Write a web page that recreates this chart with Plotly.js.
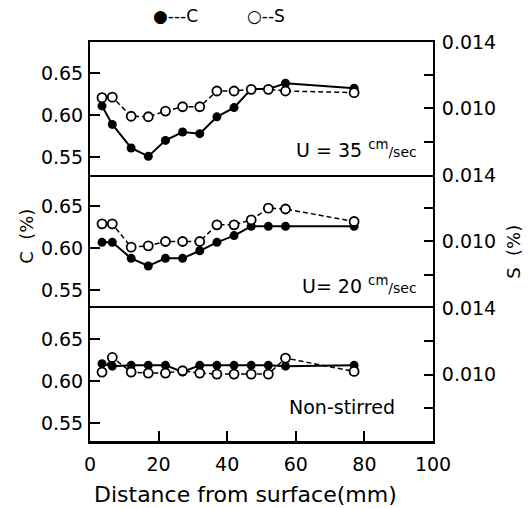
<!DOCTYPE html>
<html>
<head>
<meta charset="utf-8">
<script src="https://cdn.plot.ly/plotly-3.0.1.min.js"></script>
<style>html,body{margin:0;padding:0;background:#fff}#chart{width:528px;height:508px}</style>
</head>
<body>
<div id="chart"></div>
<script>
// Distance from surface (mm)
const depth = [3.5, 6.5, 12, 17, 22, 27, 32, 37, 42, 47, 52, 57, 77];
// U = 35 cm/sec
const C35 = [0.611, 0.589, 0.561, 0.551, 0.570, 0.580, 0.578, 0.598, 0.609, 0.631, 0.631, 0.638, 0.632];
const S35 = [0.01065, 0.01068, 0.00953, 0.00950, 0.00984, 0.01010, 0.01010, 0.01105, 0.01105, 0.01115, 0.01115, 0.01105, 0.01095];
// U = 20 cm/sec
const C20 = [0.607, 0.607, 0.588, 0.579, 0.588, 0.588, 0.597, 0.607, 0.615, 0.626, 0.626, 0.626, 0.626];
const S20 = [0.01106, 0.01106, 0.00966, 0.00974, 0.01000, 0.01000, 0.01000, 0.01100, 0.01100, 0.01130, 0.01200, 0.01195, 0.01120];
// Non-stirred
const C0 = [0.621, 0.618, 0.619, 0.619, 0.619, 0.611, 0.619, 0.619, 0.619, 0.619, 0.619, 0.618, 0.619];
const S0 = [0.01015, 0.01103, 0.01015, 0.01009, 0.01009, 0.01023, 0.01009, 0.01003, 0.01003, 0.01003, 0.01003, 0.01099, 0.01019];

const xTicks = [0, 20, 40, 60, 80, 100];
const cTicks = [0.55, 0.60, 0.65];
const cTickText = ['0.55', '0.60', '0.65'];
const sTicks = [0.010, 0.014];
const sTickText = ['0.010', '0.014'];

const FONT = 'DejaVu Sans, sans-serif';

function cTrace(y, xa, ya) {
  return {x: depth, y: y, xaxis: xa, yaxis: ya, type: 'scatter', mode: 'lines+markers',
    line: {color: '#000', width: 2}, marker: {symbol: 'circle', size: 9, color: '#000'}, showlegend: false, cliponaxis: false};
}
function sTrace(y, xa, ya) {
  return {x: depth, y: y, xaxis: xa, yaxis: ya, type: 'scatter', mode: 'lines+markers',
    line: {color: '#000', width: 1.5, dash: '5px,3px'},
    marker: {symbol: 'circle', size: 9, color: '#fff', line: {color: '#000', width: 1.8}}, showlegend: false, cliponaxis: false};
}

const data = [
  cTrace(C0, 'x', 'y'), sTrace(S0, 'x', 'y2'),
  cTrace(C20, 'x2', 'y3'), sTrace(S20, 'x2', 'y4'),
  cTrace(C35, 'x3', 'y5'), sTrace(S35, 'x3', 'y6')
];

const tickFont = {family: FONT, size: 19, color: '#000'};

function cAxis(domain, anchor) {
  return {domain: domain, anchor: anchor, range: [0.529, 0.687], tickvals: cTicks, ticktext: cTickText,
    ticks: 'inside', ticklen: 10, tickwidth: 2, tickcolor: '#000', showline: true, linewidth: 2, linecolor: '#000',
    showgrid: false, zeroline: false, tickfont: tickFont, ticklabelstandoff: 1};
}
function sAxis(over, anchor) {
  return {overlaying: over, anchor: anchor, side: 'right', range: [0.006, 0.014], tickvals: sTicks, ticktext: sTickText,
    ticks: 'inside', ticklen: 9, tickwidth: 2, tickcolor: '#000', showline: true, linewidth: 2, linecolor: '#000',
    minor: {tick0: 0, dtick: 0.002, ticks: 'inside', ticklen: 9, tickwidth: 2, tickcolor: '#000', showgrid: false},
    showgrid: false, zeroline: false, tickfont: tickFont, ticklabelstandoff: 3};
}

const layout = {
  width: 528, height: 508,
  margin: {l: 90, r: 95, t: 42, b: 67},
  paper_bgcolor: '#fff', plot_bgcolor: '#fff',
  font: {family: FONT, color: '#000'},
  showlegend: false,
  xaxis: {domain: [0, 1], anchor: 'y', range: [0, 100], tickvals: xTicks, ticks: 'inside', ticklen: 10, tickwidth: 2,
    tickcolor: '#000', showline: true, mirror: true, linewidth: 2.5, linecolor: '#000', showgrid: false, zeroline: false,
    tickfont: {family: FONT, size: 19, color: '#000'}, ticklabelstandoff: 5},
  xaxis2: {anchor: 'y3', matches: 'x', range: [0, 100], showticklabels: false, ticks: '', showline: false,
    showgrid: false, zeroline: false},
  xaxis3: {anchor: 'y5', matches: 'x', range: [0, 100], showticklabels: false, ticks: '', showline: true, mirror: true,
    linewidth: 2, linecolor: '#000', showgrid: false, zeroline: false},
  yaxis: cAxis([0, 0.333], 'x'),
  yaxis2: sAxis('y', 'x'),
  yaxis3: cAxis([0.333, 0.667], 'x2'),
  yaxis4: sAxis('y3', 'x2'),
  yaxis5: cAxis([0.667, 1], 'x3'),
  yaxis6: sAxis('y5', 'x3'),
  annotations: [
    {xref: 'paper', yref: 'paper', x: 0.452, y: -0.135, xanchor: 'center', yanchor: 'middle', text: 'Distance from surface(mm)', showarrow: false,
      font: {family: FONT, size: 22, color: '#000'}},
    {xref: 'paper', yref: 'paper', x: -0.184, y: 0.514, xanchor: 'center', yanchor: 'middle', text: 'C  (%)', textangle: -90, showarrow: false,
      font: {family: FONT, size: 18, color: '#000'}},
    {xref: 'paper', yref: 'paper', x: 1.236, y: 0.474, xanchor: 'center', yanchor: 'middle', text: 'S  (%)', textangle: -90, showarrow: false,
      font: {family: FONT, size: 18, color: '#000'}},
    {xref: 'paper', yref: 'paper', x: 0.248, y: 1.065, xanchor: 'center', yanchor: 'middle', text: '●---C', showarrow: false,
      font: {family: FONT, size: 17, color: '#000'}},
    {xref: 'paper', yref: 'paper', x: 0.513, y: 1.065, xanchor: 'center', yanchor: 'middle', text: '○--S', showarrow: false,
      font: {family: FONT, size: 17, color: '#000'}},
    {xref: 'x3', yref: 'y5', x: 96, y: 0.56, xanchor: 'right', yanchor: 'middle', text: 'U = 35 <sup>cm</sup><span style="font-size:14px">/sec</span>', showarrow: false,
      font: {family: FONT, size: 19, color: '#000'}},
    {xref: 'x2', yref: 'y3', x: 96, y: 0.556, xanchor: 'right', yanchor: 'middle', text: 'U= 20 <sup>cm</sup><span style="font-size:14px">/sec</span>', showarrow: false,
      font: {family: FONT, size: 19, color: '#000'}},
    {xref: 'x', yref: 'y', x: 89.5, y: 0.569, xanchor: 'right', yanchor: 'middle', text: 'Non-stirred', showarrow: false,
      font: {family: FONT, size: 19, color: '#000'}}
  ]
};

Plotly.newPlot('chart', data, layout, {staticPlot: true, displayModeBar: false});
</script>
</body>
</html>
